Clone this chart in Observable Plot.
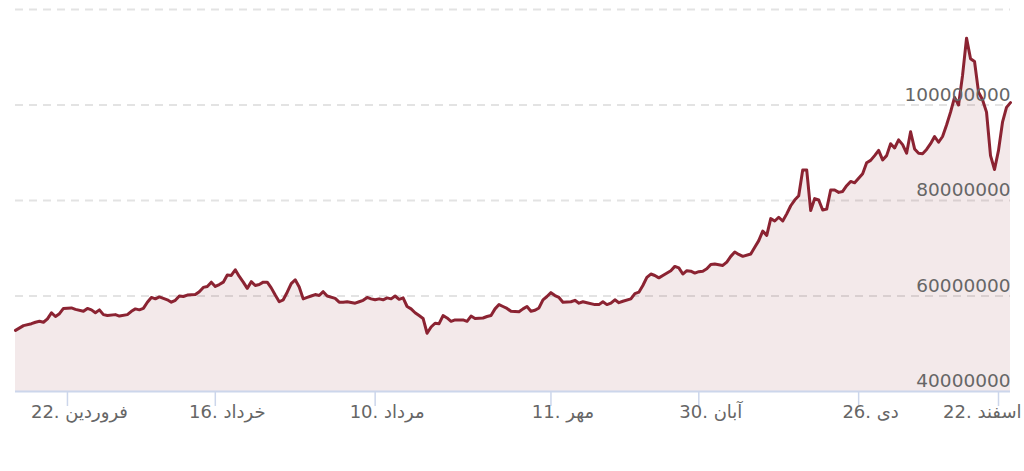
<!DOCTYPE html>
<html>
<head>
<meta charset="utf-8">
<script src="https://cdn.jsdelivr.net/npm/d3@7"></script>
<script src="https://cdn.jsdelivr.net/npm/@observablehq/plot@0.6"></script>
<style>
  html, body { margin: 0; padding: 0; background: #ffffff; overflow: hidden; }
  #chart svg { display: block; }
</style>
</head>
<body>
<div id="chart"></div>
<script>
// trading-day index (ordinal position on the time axis)
const dayIndex = [
  0, 2, 4, 5, 6, 7, 8, 9, 10, 11, 12, 14, 15, 17, 18, 19, 20, 21, 22, 23,
  25, 26, 28, 29, 30, 31, 32, 33, 34, 35, 36, 38, 39, 40, 41, 42, 43, 45, 46, 47,
  48, 49, 50, 51, 52, 53, 54, 55, 56, 57, 58, 59, 60, 61, 62, 63, 64, 65, 66, 67,
  68, 69, 70, 71, 72, 73, 74, 75, 76, 77, 78, 80, 81, 82, 83, 85, 86, 87, 88, 89,
  90, 91, 92, 93, 94, 95, 96, 97, 98, 99, 100, 101, 102, 103, 104, 105, 106, 107, 108, 109,
  110, 112, 113, 114, 115, 117, 118, 119, 120, 121, 122, 123, 124, 126, 127, 128, 129, 130, 131, 132,
  133, 134, 135, 136, 137, 139, 140, 141, 142, 143, 145, 146, 147, 148, 149, 150, 151, 152, 154, 155,
  156, 157, 158, 159, 160, 161, 162, 164, 165, 166, 167, 168, 169, 170, 171, 172, 173, 174, 175, 177,
  178, 179, 180, 181, 182, 184, 185, 186, 187, 188, 189, 190, 191, 192, 193, 194, 195, 196, 197, 198,
  199, 200, 201, 202, 203, 204, 205, 206, 207, 208, 209, 210, 212, 213, 214, 215, 216, 217, 218, 219,
  220, 221, 222, 223, 224, 225, 226, 227, 228, 229, 230, 231, 232, 233, 234, 235, 236, 237, 238, 239,
  240, 241, 242, 243, 244, 245, 246, 247, 248, 249
];
const price = [
  52.8e6, 53.8e6, 54.2e6, 54.5e6, 54.7e6, 54.5e6, 55.2e6, 56.5e6, 55.7e6, 56.3e6, 57.4e6, 57.5e6, 57.2e6, 56.8e6, 57.4e6, 57.1e6, 56.5e6, 57.1e6, 56.1e6, 55.9e6,
  56.1e6, 55.8e6, 56.1e6, 56.8e6, 57.3e6, 57.1e6, 57.4e6, 58.7e6, 59.7e6, 59.4e6, 59.8e6, 59.2e6, 58.7e6, 59.1e6, 60.0e6, 59.9e6, 60.2e6, 60.3e6, 60.9e6, 61.8e6,
  62.0e6, 62.9e6, 62.0e6, 62.4e6, 62.9e6, 64.4e6, 64.3e6, 65.5e6, 64.1e6, 62.9e6, 61.6e6, 63.0e6, 62.2e6, 62.4e6, 62.9e6, 62.9e6, 61.7e6, 60.2e6, 58.8e6, 59.2e6,
  60.8e6, 62.6e6, 63.4e6, 61.9e6, 59.4e6, 59.7e6, 60.0e6, 60.3e6, 60.1e6, 60.9e6, 60.0e6, 59.5e6, 58.7e6, 58.7e6, 58.8e6, 58.5e6, 58.8e6, 59.1e6, 59.7e6, 59.4e6,
  59.2e6, 59.4e6, 59.2e6, 59.6e6, 59.4e6, 60.0e6, 59.3e6, 59.6e6, 57.8e6, 57.3e6, 56.5e6, 55.9e6, 55.3e6, 52.2e6, 53.5e6, 54.3e6, 54.2e6, 55.9e6, 55.4e6, 54.7e6,
  55.0e6, 55.0e6, 54.7e6, 55.8e6, 55.3e6, 55.4e6, 55.7e6, 55.9e6, 57.3e6, 58.2e6, 57.8e6, 57.4e6, 56.8e6, 56.7e6, 57.3e6, 57.8e6, 56.8e6, 57.0e6, 57.5e6, 59.2e6,
  59.9e6, 60.7e6, 60.1e6, 59.7e6, 58.7e6, 58.8e6, 59.1e6, 58.5e6, 58.8e6, 58.6e6, 58.2e6, 58.2e6, 58.8e6, 58.2e6, 58.5e6, 59.2e6, 58.6e6, 58.9e6, 59.4e6, 60.5e6,
  60.8e6, 62.2e6, 63.9e6, 64.6e6, 64.3e6, 63.8e6, 64.3e6, 65.3e6, 66.2e6, 65.9e6, 64.6e6, 65.3e6, 65.2e6, 64.8e6, 65.1e6, 65.2e6, 65.7e6, 66.6e6, 66.7e6, 66.4e6,
  67.1e6, 68.3e6, 69.2e6, 68.7e6, 68.3e6, 68.8e6, 70.2e6, 71.6e6, 73.6e6, 72.7e6, 76.2e6, 75.7e6, 76.5e6, 75.7e6, 77.2e6, 78.9e6, 80.1e6, 81.0e6, 86.4e6, 86.4e6,
  77.9e6, 80.4e6, 80.1e6, 78.0e6, 78.2e6, 82.2e6, 82.2e6, 81.7e6, 81.9e6, 83.1e6, 84.0e6, 83.7e6, 85.6e6, 87.9e6, 88.4e6, 89.4e6, 90.5e6, 88.5e6, 89.4e6, 91.9e6,
  91.0e6, 92.7e6, 91.7e6, 89.9e6, 94.4e6, 90.8e6, 89.9e6, 89.8e6, 90.7e6, 91.9e6, 93.4e6, 92.2e6, 93.4e6, 95.8e6, 98.5e6, 101.6e6, 100.0e6, 106.2e6, 114.0e6, 109.7e6,
  109.1e6, 102.7e6, 101.1e6, 98.5e6, 89.4e6, 86.5e6, 90.5e6, 96.4e6, 99.5e6, 100.5e6
];
const xTickIndex = [13, 50, 90, 134, 171, 211, 246];
const xTickLabels = ["22. فروردین", "16. خرداد", "10. مرداد", "11. مهر", "30. آبان", "26. دی", "22. اسفند"];
const yGridValues = [60000000, 80000000, 100000000, 120000000];
const yLabelValues = [40000000, 60000000, 80000000, 100000000];
const yBase = 40000000;
const yTop = 120000000;

const data = dayIndex.map((d, i) => ({day: d, price: price[i]}));
const xLabels = xTickIndex.map((d, i) => ({day: d, label: xTickLabels[i]}));

const lineColor = "#8b2332";
const textColor = "#666666";

const chart = Plot.plot({
  width: 1024,
  height: 471,
  marginTop: 9,
  marginBottom: 80,
  marginLeft: 15,
  marginRight: 14,
  style: {fontFamily: "DejaVu Sans", background: "#ffffff", overflow: "visible"},
  x: {domain: [0, 249], axis: null},
  y: {domain: [yBase, yTop], axis: null},
  marks: [
    Plot.ruleY(yGridValues, {stroke: "#e3e3e3", strokeWidth: 2, strokeDasharray: "8,6"}),
    Plot.areaY(data, {x: "day", y1: yBase, y2: "price", fill: lineColor, fillOpacity: 0.1}),
    Plot.line(data, {x: "day", y: "price", stroke: lineColor, strokeWidth: 3, strokeLinejoin: "round", strokeLinecap: "round"}),
    Plot.ruleY([yBase], {stroke: "#ccd6eb", strokeWidth: 2}),
    Plot.axisX(xTickIndex, {tickSize: 15, stroke: "#ccd6eb", strokeWidth: 1.5, tickFormat: () => "", label: null}),
    Plot.text(xLabels.slice(0, 6), {x: "day", text: "label", frameAnchor: "bottom", dy: 26, dx: 12, fill: textColor, fontSize: 18}),
    Plot.text(xLabels.slice(6), {x: "day", text: "label", frameAnchor: "bottom", textAnchor: "end", dy: 26, dx: 23, fill: textColor, fontSize: 18}),
    Plot.text(yLabelValues, {y: d => d, text: d => String(d), frameAnchor: "right", textAnchor: "end", dy: -10, fill: textColor, fontSize: 18.5})
  ]
});
document.getElementById("chart").append(chart);
</script>
</body>
</html>
